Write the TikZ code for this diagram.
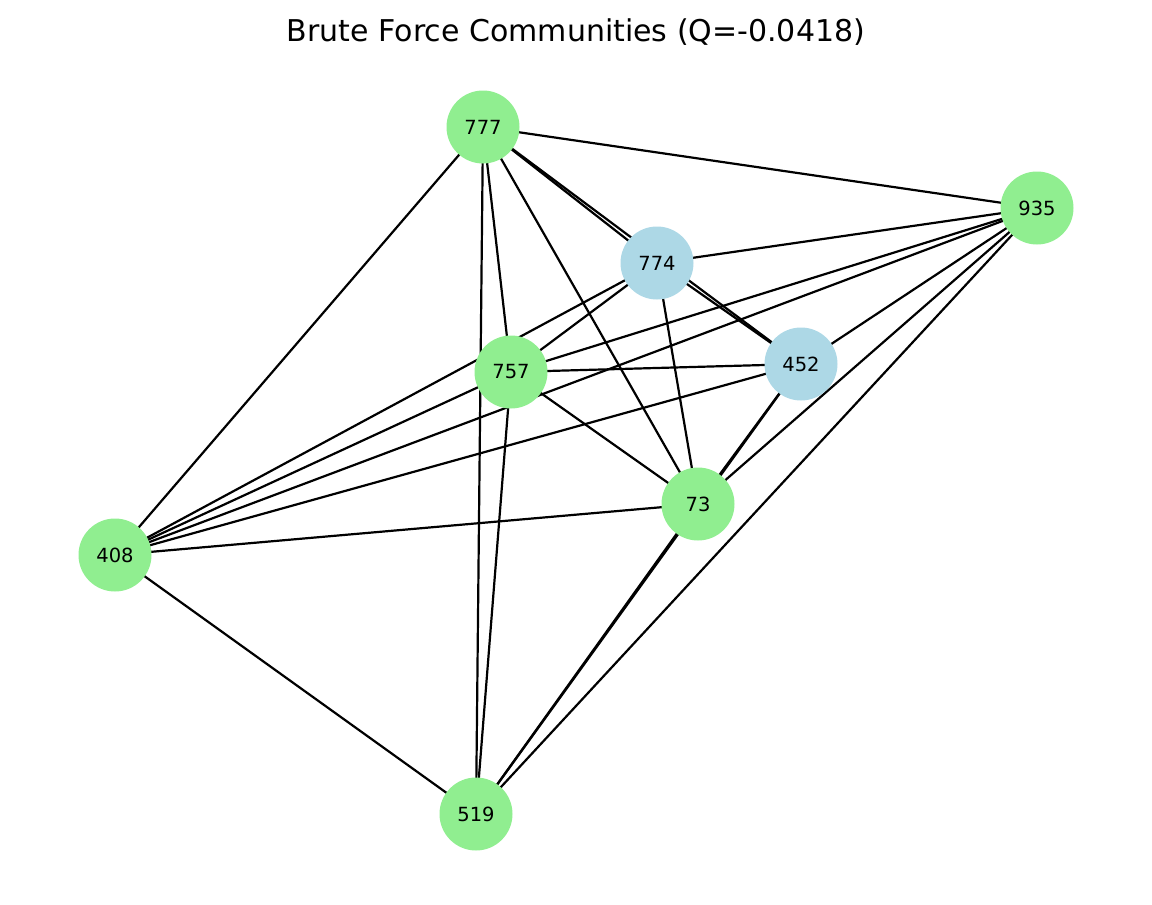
\documentclass[tikz,border=0pt]{standalone}
\usepackage{fontspec}
\setmainfont{DejaVu Sans}
\usetikzlibrary{backgrounds}
\definecolor{lgreen}{HTML}{90EE90}
\definecolor{lblue}{HTML}{ADD8E6}
\begin{document}
\begin{tikzpicture}[x=1pt,y=-1pt,
  vtx/.style={circle,inner sep=0pt,minimum size=73pt,font=\fontsize{19.5}{22}\selectfont},
  gnode/.style={vtx,fill=lgreen},
  bnode/.style={vtx,fill=lblue},
  edge/.style={line width=2.2pt,black}]
\useasboundingbox (0,0) rectangle (1152,905);
\node[font=\fontsize{30}{34}\selectfont] (title) at (576,32) {Brute Force Communities (Q=-0.0418)};
\node[gnode] (n777) at (483,127) {777};
\node[gnode] (n935) at (1037,208) {935};
\node[bnode] (n774) at (657,263) {774};
\node[bnode] (n452) at (801,364) {452};
\node[gnode] (n757) at (511,372) {757};
\node[gnode] (n73) at (698,504) {73};
\node[gnode] (n408) at (115,555) {408};
\node[gnode] (n519) at (476,814) {519};
\begin{scope}[on background layer]
\foreach \a/\b in {777/935,777/774,777/452,777/408,777/757,777/519,777/73,
  935/774,935/757,935/408,935/452,935/73,935/519,
  774/757,774/408,774/73,774/452,
  757/452,757/73,757/408,757/519,
  452/408,452/73,452/519,
  73/408,73/519,408/519}
  \draw[edge] (n\a.center) -- (n\b.center);
\end{scope}
\end{tikzpicture}
\end{document}
